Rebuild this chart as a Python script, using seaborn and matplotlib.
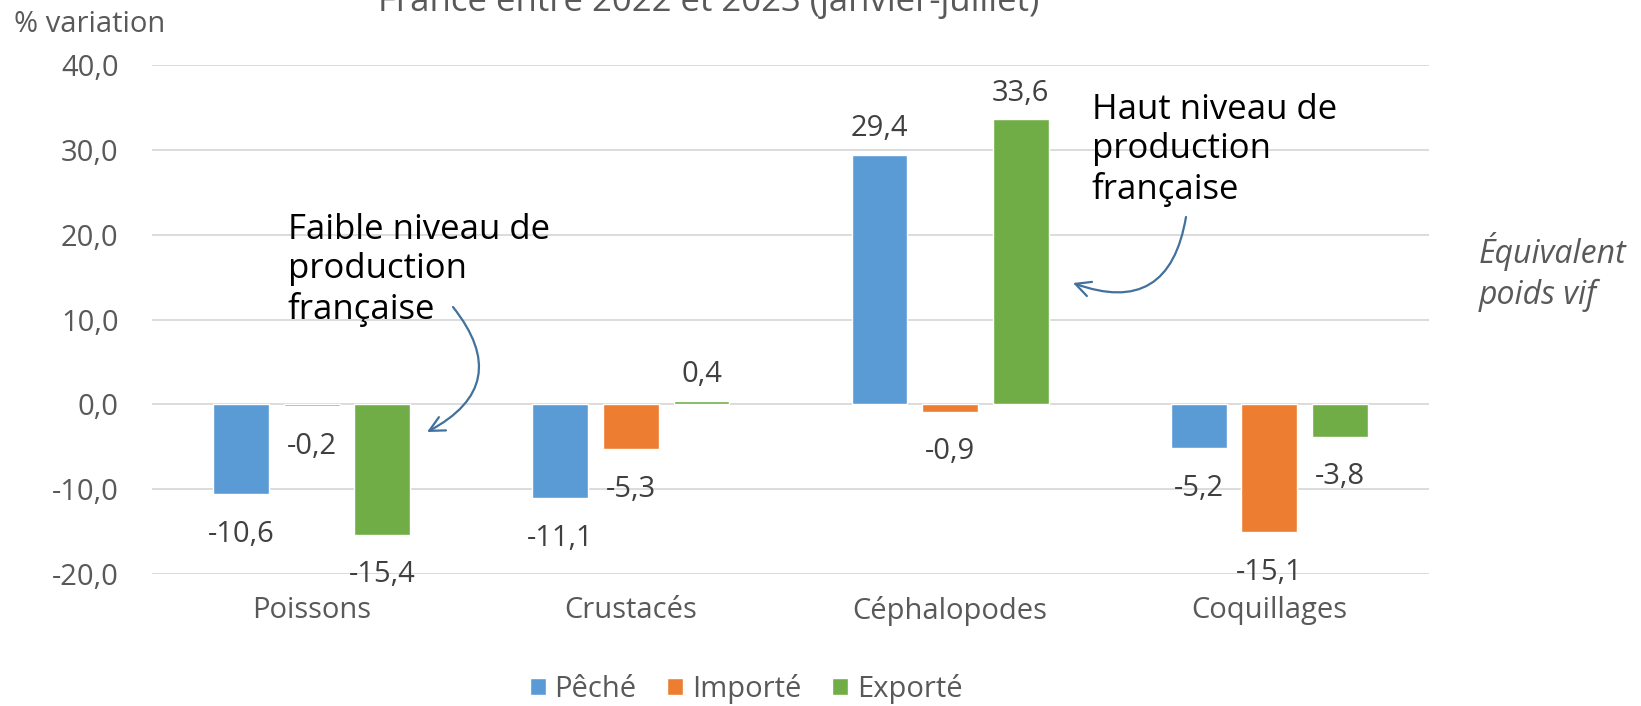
import matplotlib
matplotlib.use("Agg")
import matplotlib.pyplot as plt
import seaborn as sns
import pandas as pd

categories = ["Poissons", "Crustacés", "Céphalopodes", "Coquillages"]
series = ["Pêché", "Importé", "Exporté"]
peche = [-10.6, -11.1, 29.4, -5.2]
importe = [-0.2, -5.3, -0.9, -15.1]
exporte = [-15.4, 0.4, 33.6, -3.8]
yticks = [-20, -10, 0, 10, 20, 30, 40]
colors = ["#5B9BD5", "#ED7D31", "#70AD47"]

rows = []
for s, vals in zip(series, [peche, importe, exporte]):
    for c, v in zip(categories, vals):
        rows.append({"cat": c, "serie": s, "val": v})
df = pd.DataFrame(rows)

sns.set_theme(style="white")
plt.rcParams["font.family"] = ["Open Sans", "DejaVu Sans"]

FS = 21
fig = plt.figure(figsize=(16.41, 7.06), dpi=100)
ax = fig.add_axes([152 / 1641, 1 - 574 / 706, (1429 - 152) / 1641, (574 - 65) / 706])

sns.barplot(data=df, x="cat", y="val", hue="serie", order=categories,
            hue_order=series, palette=colors, width=0.664, gap=0.21,
            saturation=1, ax=ax, legend=True)

ax.set_ylim(-20, 40)
ax.set_xlim(-0.5, 3.5)
ax.set_yticks(yticks)
ax.set_yticklabels([f"{t:.1f}".replace(".", ",") for t in yticks])
ax.yaxis.grid(True, color="#D9D9D9", linewidth=1.3)
ax.set_axisbelow(True)
for sp in ax.spines.values():
    sp.set_visible(False)
ax.set_xlabel("")
ax.set_ylabel("")
ax.tick_params(axis="y", length=0, pad=24, labelsize=FS, labelcolor="#595959")
ax.tick_params(axis="x", length=0, pad=16, labelsize=FS, labelcolor="#595959")

# data labels
for cont, vals in zip(ax.containers, [peche, importe, exporte]):
    for bar, v in zip(cont, vals):
        xc = bar.get_x() + bar.get_width() / 2
        off = 26 if v >= 0 else -40
        ax.annotate(f"{v:.1f}".replace(".", ","), xy=(xc, v), xytext=(0, off),
                    textcoords="offset pixels", ha="center", va="center",
                    fontsize=FS, color="#404040")

# legend
leg = ax.legend(loc="center", bbox_to_anchor=(746 / 1641, 1 - 689 / 706),
                bbox_transform=fig.transFigure, ncol=3, frameon=False,
                fontsize=FS, handlelength=0.55, handleheight=0.55,
                handletextpad=0.3, columnspacing=1.05)
for t in leg.get_texts():
    t.set_color("#595959")

# texts
fig.text(709 / 1641, 1 - 11 / 706, "France entre 2022 et 2023 (janvier-juillet)",
         ha="center", va="baseline", fontsize=25, color="#595959")
fig.text(14 / 1641, 1 - 24 / 706, "% variation", ha="left", va="center",
         fontsize=FS, color="#595959")
fig.text(1479 / 1641, 1 - 272 / 706, "Équivalent\npoids vif", ha="left",
         va="center", fontsize=23, color="#595959", style="italic",
         linespacing=1.3)

arrow_color = "#41719C"
aprops = dict(arrowstyle="->,head_length=0.9,head_width=0.45",
              color=arrow_color, lw=1.6, connectionstyle="arc3,rad=-0.6",
              shrinkA=0, shrinkB=0)

fig.text(288 / 1641, 1 - 270 / 706, "Faible niveau de\nproduction\nfrançaise",
         ha="left", va="center", fontsize=25, color="black", linespacing=1.2)
ax.annotate("", xy=(427 / 1641, 1 - 432 / 706), xycoords="figure fraction",
            xytext=(453 / 1641, 1 - 307 / 706), textcoords="figure fraction",
            arrowprops=aprops)

fig.text(1092 / 1641, 1 - 150 / 706, "Haut niveau de\nproduction\nfrançaise",
         ha="left", va="center", fontsize=25, color="black", linespacing=1.2)
ax.annotate("", xy=(1073 / 1641, 1 - 283 / 706), xycoords="figure fraction",
            xytext=(1186 / 1641, 1 - 217 / 706), textcoords="figure fraction",
            arrowprops=aprops)

fig.savefig("out.png", dpi=100)
